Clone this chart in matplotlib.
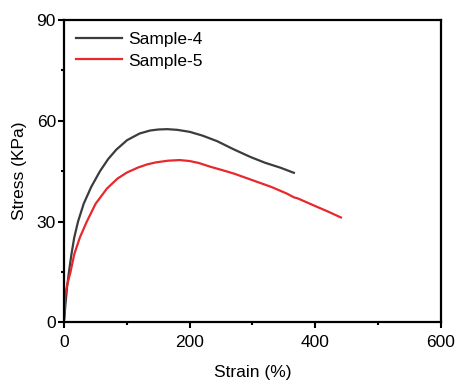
import matplotlib
matplotlib.use("Agg")
import matplotlib.pyplot as plt
import numpy as np
from matplotlib.ticker import MultipleLocator

plt.rcParams['font.family'] = ['Liberation Sans', 'DejaVu Sans']

# Sample-4
strain_4 = [0, 1.5, 4.5, 7.5, 11.5, 16, 22, 31, 43, 57, 70, 83, 100, 120, 137, 150,
            164, 180, 200, 220, 244, 270, 297, 320, 345, 366]
stress_4 = [1, 4.5, 10.5, 15, 20.3, 25.3, 30, 35.3, 40.3, 45.0, 48.6, 51.4, 54.2,
            56.2, 57.1, 57.4, 57.5, 57.3, 56.7, 55.6, 53.9, 51.5, 49.2, 47.5, 46, 44.5]

# Sample-5
strain_5 = [0, 0.7, 1.5, 4.5, 10, 16, 25, 36, 50, 68, 85, 100, 118, 132, 146, 165,
            184, 200, 215, 233, 250, 270, 300, 330, 355, 366, 372, 400, 420, 441]
stress_5 = [1.5, 5, 8, 11, 15, 20.3, 25.3, 30, 35.3, 39.8, 42.8, 44.6, 46.1,
            47.0, 47.6, 48.1, 48.3, 48.0, 47.4, 46.3, 45.4, 44.3, 42.3, 40.3, 38.3,
            37.2, 36.9, 34.6, 33, 31.2]

fig = plt.figure(figsize=(4.59, 3.85), dpi=100)
ax = fig.add_axes([0.140, 0.163, 0.820, 0.785])

ax.plot(strain_4, stress_4, color='#3c3c3c', lw=1.6, label='Sample-4')
ax.plot(strain_5, stress_5, color='#e8282c', lw=1.6, label='Sample-5')

ax.set_xlim(0, 600)
ax.set_ylim(0, 90)
ax.xaxis.set_major_locator(MultipleLocator(200))
ax.xaxis.set_minor_locator(MultipleLocator(100))
ax.yaxis.set_major_locator(MultipleLocator(30))
ax.yaxis.set_minor_locator(MultipleLocator(15))
ax.tick_params(which='major', direction='out', length=4, width=1.5, labelsize=12.5)
ax.tick_params(axis='x', which='major', pad=5)
ax.tick_params(axis='y', which='major', pad=2)
ax.tick_params(which='minor', direction='out', length=2.5, width=1.5)
for s in ax.spines.values():
    s.set_linewidth(1.6)

ax.set_xlabel('Strain (%)', fontsize=12.5, labelpad=11)
ax.set_ylabel('Stress (KPa)', fontsize=12.5, labelpad=7)

ax.legend(loc='upper left', frameon=False, fontsize=12.5, handlelength=2.6,
          handletextpad=0.4, labelspacing=0.35, borderaxespad=0.3,
          bbox_to_anchor=(0.0, 1.0))

fig.savefig('out.png', dpi=100)
